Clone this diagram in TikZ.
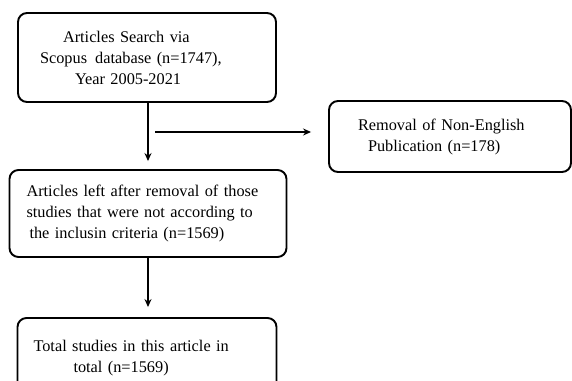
\documentclass[tikz,border=0pt]{standalone}
\usepackage{fontspec}
\setmainfont{Liberation Serif}
\usetikzlibrary{arrows.meta,positioning,calc}
\colorlet{colorBOX}{black}
\colorlet{colorFLOW}{black}
\tikzset{
   every path/.style={>={Stealth[length=8pt,width=7pt]}},
   box/.style={rectangle, draw=colorBOX, line width=1.9pt, rounded corners=9pt, inner ysep=0pt, font=\fontsize{16.3}{21}\selectfont},
   flow/.style={->, draw=colorFLOW, line width=1.6pt},
}
\begin{document}
\begin{tikzpicture}[x=1pt,y=-1pt]
\useasboundingbox (0,0) rectangle (572,380);
\clip (0,0) rectangle (572,380);
% boxes of the flow
\node[box, minimum width=258pt, minimum height=89pt, inner xsep=22pt, text width=214pt, align=left] (search) at (147,57.5) {\hspace*{23pt}Articles Search via\\ Scopus\, database (n=1747),\\ \hspace*{35pt}Year 2005-2021};
\node[box, minimum width=242pt, minimum height=71pt, inner xsep=29pt, text width=184pt, align=left] (removal) at (450,136.5) {Removal of Non-English\\ \hspace*{10pt}Publication (n=178)};
\node[box, minimum width=277pt, minimum height=87pt, inner xsep=17pt, text width=243pt, align=left] (left) at (148,213.5) {Articles left after removal of those\\ studies that were not according to\\ \hspace*{3pt}the inclusin criteria (n=1569)};
\node[box, minimum width=259pt, minimum height=80pt, inner xsep=16pt, text width=227pt, align=left] (total) at (147,358) {Total studies in this article in\\ \hspace*{40pt}total (n=1569)};
% connectors
\coordinate (split) at (148,132);
\draw[flow, shorten >=8pt] (split |- search.south) -- (split |- left.north);
\draw[flow, shorten >=17pt] ([xshift=7pt]split) -- (split -| removal.west);
\draw[flow, shorten >=10pt] (split |- left.south) -- (split |- total.north);
\end{tikzpicture}
\end{document}
